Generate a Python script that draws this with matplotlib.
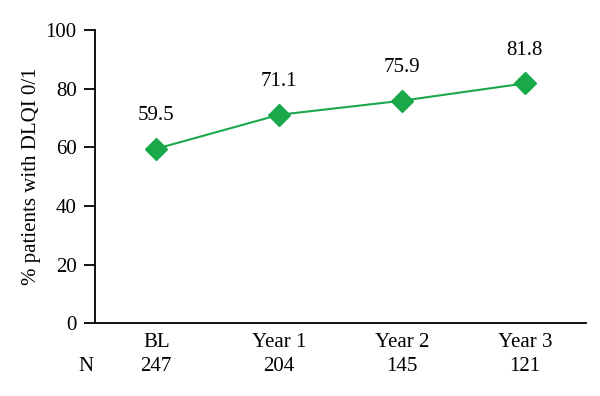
import matplotlib.pyplot as plt
import matplotlib.transforms as mtransforms

plt.rcParams['font.family'] = ['Liberation Serif', 'DejaVu Serif']

categories = ["BL", "Year 1", "Year 2", "Year 3"]
n_patients = [247, 204, 145, 121]
pct_dlqi = [59.5, 71.1, 75.9, 81.8]

green = "#1aa84b"
fs = 15

fig = plt.figure(figsize=(6, 3.96), dpi=100)
ax = fig.add_axes([0.158, 0.184, 0.819, 0.74])

x = list(range(len(categories)))
ax.plot(x, pct_dlqi, color=green, linewidth=1.5, marker="D",
        markersize=11, markerfacecolor=green, markeredgecolor=green)

for xi, v in zip(x, pct_dlqi):
    ax.annotate(f"{v:.1f}", (xi, v), xytext=(0, 24), textcoords="offset points",
                ha="center", va="center", fontsize=fs)

ax.set_xlim(-0.5, 3.5)
ax.set_ylim(0, 100)
ax.set_yticks(range(0, 101, 20))
ax.set_xticks(x)
ax.set_xticklabels(categories)
ax.tick_params(axis="x", length=0, pad=7, labelsize=fs)
ax.tick_params(axis="y", length=8, width=1.3, pad=5, labelsize=fs)
ax.set_ylabel("% patients with DLQI 0/1", fontsize=fs, labelpad=3)

for s in ["top", "right"]:
    ax.spines[s].set_visible(False)
for s in ["left", "bottom"]:
    ax.spines[s].set_linewidth(1.3)

# N row under the category labels
trans = mtransforms.blended_transform_factory(ax.transData, ax.transAxes)
for xi, n in zip(x, n_patients):
    ax.text(xi, -0.147, str(n), transform=trans, ha="center", va="center", fontsize=fs)
ax.text(-0.57, -0.147, "N", transform=trans, ha="center", va="center", fontsize=fs)

fig.savefig("out.png", dpi=100)
